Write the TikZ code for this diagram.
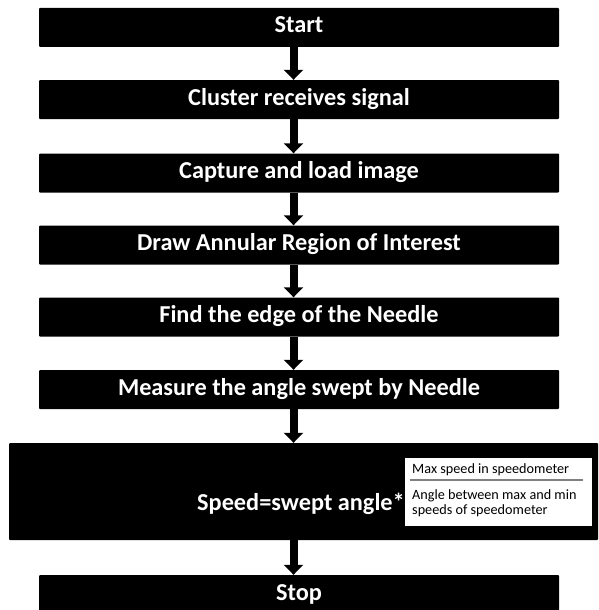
\documentclass[tikz,border=0pt]{standalone}
\usepackage{fontspec}
\setmainfont{Carlito}
\usetikzlibrary{arrows.meta}
\begin{document}
\begin{tikzpicture}[x=1pt,y=-1pt,
  stepbox/.style={fill=black, text=white, font=\fontsize{24.3}{27}\selectfont\bfseries,
    minimum width=520pt, minimum height=39pt, inner sep=0pt, rounded corners=1pt,
    text height=16pt, text depth=5pt},
  flow/.style={line width=8pt, -{Triangle[width=19pt,length=10pt]}},
  small/.style={font=\fontsize{14.2}{15}\selectfont, text=black, inner sep=0pt}]
\useasboundingbox (0,0) rectangle (598,610);
\coordinate (ax) at (293.5,0);
\node[stepbox] (start) at (299,27.5) {Start};
\node[stepbox] (cluster) at (299,99.5) {Cluster receives signal};
\node[stepbox] (capture) at (299,173) {Capture and load image};
\node[stepbox] (annular) at (299,245) {Draw Annular Region of Interest};
\node[stepbox] (edge) at (299,317) {Find the edge of the Needle};
\node[stepbox] (measure) at (299,389.5) {Measure the angle swept by Needle};
\node[stepbox, minimum width=589pt, minimum height=97pt, text height=0pt, text depth=0pt] (speed) at (303.5,491.5) {};
\node[stepbox] (stop) at (299,594.5) {Stop};
\node[font=\fontsize{24.3}{27}\selectfont\bfseries, text=white, inner sep=0pt, text height=16pt, text depth=5pt] (speedtxt) at (301,505) {Speed=swept angle*};
\node[fill=white, minimum width=187pt, minimum height=68pt, inner sep=0pt] (inset) at (498.5,492) {};
\node[small, anchor=west] (num) at (412,470) {Max speed in speedometer};
\draw[gray, line width=1.2pt] (410,480) -- (583,480);
\node[small, anchor=north west, align=left] (den) at (412,489) {Angle between max and min\\speeds of speedometer};
\draw[flow] (start.south -| ax) -- (cluster.north -| ax);
\draw[flow] (cluster.south -| ax) -- (capture.north -| ax);
\draw[flow] (capture.south -| ax) -- (annular.north -| ax);
\draw[flow] (annular.south -| ax) -- (edge.north -| ax);
\draw[flow] (edge.south -| ax) -- (measure.north -| ax);
\draw[flow] (measure.south -| ax) -- (speed.north -| ax);
\draw[flow] (speed.south -| ax) -- (stop.north -| ax);
\end{tikzpicture}
\end{document}
